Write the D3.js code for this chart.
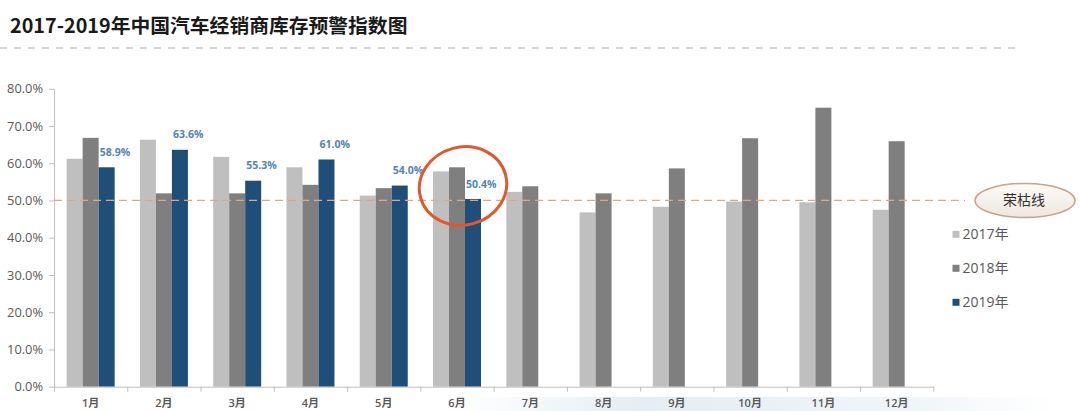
<!DOCTYPE html>
<html><head><meta charset="utf-8">
<script src="https://cdn.jsdelivr.net/npm/d3@7"></script>
<style>
html,body{margin:0;padding:0;background:#fff;}
svg{display:block;}
</style>
</head><body>
<svg id="c" width="1080" height="411"></svg>
<script>
const months = ["1月","2月","3月","4月","5月","6月","7月","8月","9月","10月","11月","12月"];
const seriesNames = ["2017年","2018年","2019年"];
const v2017 = [61.2, 66.3, 61.7, 58.9, 51.3, 57.8, 52.3, 46.8, 48.3, 49.7, 49.5, 47.5];
const v2018 = [66.8, 51.9, 51.9, 54.2, 53.3, 58.9, 53.8, 51.9, 58.6, 66.7, 74.9, 65.9];
const v2019 = [58.9, 63.6, 55.3, 61.0, 54.0, 50.4, null, null, null, null, null, null];
const yTicks = [0, 10, 20, 30, 40, 50, 60, 70, 80];
const thresholdValue = 50;
const thresholdLabel = "荣枯线";
const highlightMonth = "6月";
const title = "2017-2019年中国汽车经销商库存预警指数图";
const colors = ["#bfbfbf", "#7f7f7f", "#1f4e79"];

(function () {
const svg = d3.select("#c");
const font = "'Open Sans','Noto Sans CJK SC',sans-serif";
const cjk = "'Noto Sans CJK SC','Noto Sans',sans-serif";

const pLeft = 54, pRight = 933.3, pTop = 88.7, pBottom = 386.7;
const y = d3.scaleLinear().domain([0, 80]).range([pBottom, pTop]);
const x0 = d3.scaleBand().domain(months).range([pLeft, pRight]).paddingInner(0.345).paddingOuter(0.1725);
const x1 = d3.scaleBand().domain(seriesNames).range([0, x0.bandwidth()]);
const xb = d3.scaleLinear().domain([0, months.length]).range([pLeft, pRight]);

const defs = svg.append("defs");
const g1 = defs.append("linearGradient").attr("id","refl").attr("x1","0").attr("x2","1").attr("y1","0").attr("y2","0");
g1.append("stop").attr("offset","0%").attr("stop-color","#d3e2ec").attr("stop-opacity",0);
g1.append("stop").attr("offset","30%").attr("stop-color","#d3e2ec").attr("stop-opacity",0.6);
g1.append("stop").attr("offset","75%").attr("stop-color","#dde8f0").attr("stop-opacity",0.45);
g1.append("stop").attr("offset","100%").attr("stop-color","#e6eef4").attr("stop-opacity",0);
const g2 = defs.append("linearGradient").attr("id","pill").attr("x1","0").attr("x2","0").attr("y1","0").attr("y2","1");
g2.append("stop").attr("offset","0%").attr("stop-color","#fdfbf9");
g2.append("stop").attr("offset","100%").attr("stop-color","#efe6de");

// reflection artifact at bottom
svg.append("rect").attr("x", 460).attr("y", 397).attr("width", 600).attr("height", 14).attr("fill", "url(#refl)");

// title
svg.append("text").attr("x", 10).attr("y", 33).text(title)
  .attr("font-family", cjk).attr("font-weight", "bold").attr("font-size", 19.8).attr("fill", "#1a1a1a");
svg.append("line").attr("x1", 0).attr("x2", 1022).attr("y1", 48).attr("y2", 48)
  .attr("stroke", "#c8c8c8").attr("stroke-width", 1.5).attr("stroke-dasharray", "7,7");

// bars
const data = months.map((m, i) => ({m, vals: [v2017[i], v2018[i], v2019[i]]}));
const groups = svg.append("g").selectAll("g").data(data).join("g")
  .attr("transform", d => `translate(${x0(d.m)},0)`);
groups.selectAll("rect").data(d => d.vals.map((v, k) => ({v, k})).filter(e => e.v != null)).join("rect")
  .attr("x", e => x1(seriesNames[e.k]))
  .attr("width", x1.bandwidth())
  .attr("y", e => y(e.v))
  .attr("height", e => y(0) - y(e.v))
  .attr("fill", e => colors[e.k]);

// 2019 data labels
svg.append("g").selectAll("text").data(data.filter(d => d.vals[2] != null)).join("text")
  .attr("x", d => x0(d.m) + x1(seriesNames[2]) + 1)
  .attr("y", d => y(d.vals[2]) - 15)
  .attr("dy", "0.35em")
  .attr("font-family", font).attr("font-weight", "bold").attr("font-size", 10.5)
  .attr("fill", "#5283b8")
  .text(d => d.vals[2].toFixed(1) + "%");

// y axis
const yAxis = svg.append("g").attr("transform", `translate(${pLeft},0)`)
  .call(d3.axisLeft(y).tickValues(yTicks).tickFormat(d => d.toFixed(1) + "%").tickSize(5).tickSizeOuter(0).tickPadding(6));
yAxis.selectAll("path,line").attr("stroke", "#bfbfbf");
yAxis.selectAll("text").attr("font-family", font).attr("font-size", 12.8).attr("fill", "#5a5a5a");

// x axis: boundary ticks
const xAxisT = svg.append("g").attr("transform", `translate(0,${pBottom})`)
  .call(d3.axisBottom(xb).tickValues(d3.range(months.length + 1)).tickFormat("").tickSize(5).tickSizeOuter(0));
xAxisT.selectAll("path,line").attr("stroke", "#bfbfbf");
const xAxisL = svg.append("g").attr("transform", `translate(0,${pBottom})`)
  .call(d3.axisBottom(x0).tickSize(0).tickPadding(13));
xAxisL.select("path").remove();
xAxisL.selectAll("text").attr("font-family", font).attr("font-weight", 600).attr("font-size", 11).attr("fill", "#595959");

// threshold line
svg.append("line").attr("x1", pLeft).attr("x2", 965).attr("y1", y(thresholdValue)).attr("y2", y(thresholdValue))
  .attr("stroke", "#e6a67c").attr("stroke-width", 1.3).attr("stroke-dasharray", "8,5");
svg.append("ellipse").attr("cx", 1025).attr("cy", y(thresholdValue)).attr("rx", 50).attr("ry", 17)
  .attr("fill", "url(#pill)").attr("stroke", "#c9a487").attr("stroke-width", 1.5);
svg.append("text").attr("x", 1024).attr("y", y(thresholdValue)).attr("dy", "0.35em").attr("text-anchor", "middle")
  .attr("font-family", cjk).attr("font-size", 14).attr("fill", "#333").text(thresholdLabel);

// highlight circle
const hx = x0(highlightMonth) + x0.bandwidth() / 2 + 6;
svg.append("ellipse").attr("cx", hx).attr("cy", 186).attr("rx", 44).attr("ry", 39)
  .attr("transform", `rotate(-15,${hx},186)`)
  .attr("fill", "none").attr("stroke", "#e2582c").attr("stroke-width", 3);

// legend
const leg = svg.append("g").selectAll("g").data(seriesNames).join("g")
  .attr("transform", (d, i) => `translate(952.5,${234.3 + i * 34})`);
leg.append("rect").attr("x", 0).attr("y", -3.5).attr("width", 7).attr("height", 7).attr("fill", (d, i) => colors[i]);
leg.append("text").attr("x", 10).attr("dy", "0.35em").attr("font-family", font).attr("font-size", 14)
  .attr("fill", "#595959").text(d => d);
})();
</script>
</body></html>
